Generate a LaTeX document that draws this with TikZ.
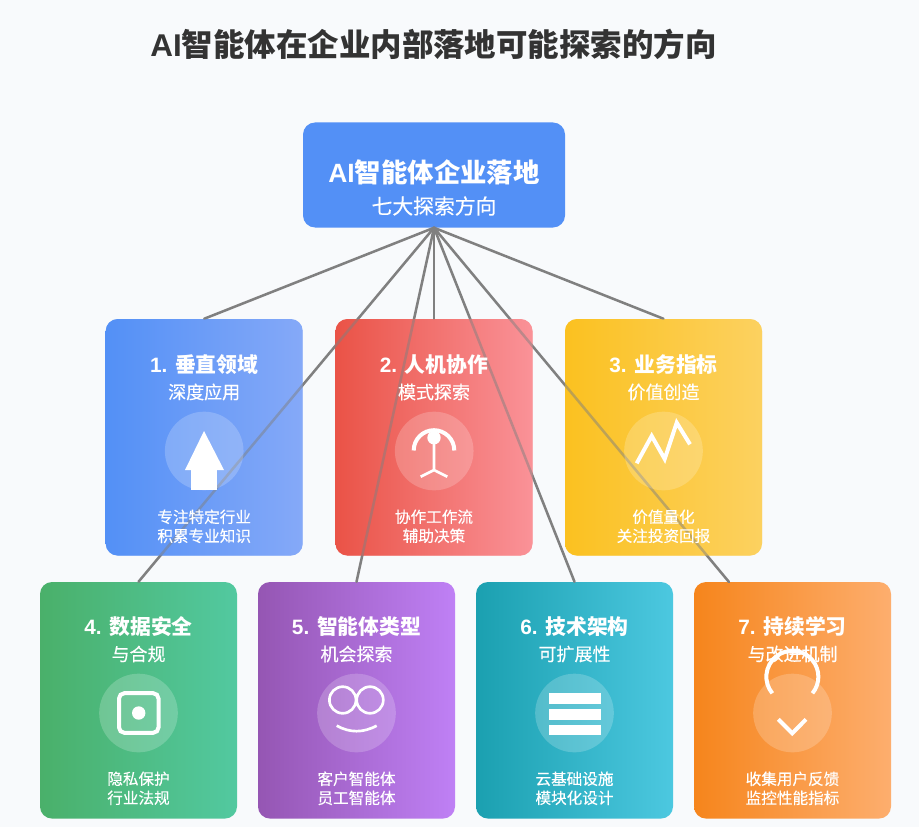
\documentclass[tikz,border=0pt]{standalone}
\usepackage{fontspec}
\setmainfont{Noto Sans CJK SC}
\newfontfamily\latinfont{Liberation Sans}
\newfontfamily\softfont[FakeBold=0.35]{Noto Sans CJK SC}
\usetikzlibrary{positioning}
\definecolor{pagebg}{HTML}{F8FAFC}
\definecolor{hubblue}{HTML}{5390F6}
\definecolor{cardA}{HTML}{5390F6}\definecolor{cardAb}{HTML}{85A9F8}
\definecolor{cardB}{HTML}{EA5347}\definecolor{cardBb}{HTML}{FA9298}
\definecolor{cardC}{HTML}{FBC120}\definecolor{cardCb}{HTML}{FCD160}
\definecolor{cardD}{HTML}{4AB06A}\definecolor{cardDb}{HTML}{52C9A0}
\definecolor{cardE}{HTML}{9556B3}\definecolor{cardEb}{HTML}{BF80F5}
\definecolor{cardF}{HTML}{1BA0B0}\definecolor{cardFb}{HTML}{4CC8E0}
\definecolor{cardG}{HTML}{F6851C}\definecolor{cardGb}{HTML}{FDAE6E}
\tikzset{
  hub/.style={draw=none, fill=hubblue, rounded corners=9pt, minimum width=196.5pt, minimum height=78.75pt, inner sep=0pt},
  card/.style 2 args={draw=none, left color=#1, right color=#2, rounded corners=9pt, minimum width=147.75pt, minimum height=177.4pt, inner sep=0pt},
  veil/.style={opacity=0.5},
  link/.style={draw=black!50, line width=1.9pt, line cap=round},
  halo/.style={circle, fill=white, fill opacity=0.2, draw=none, minimum size=59pt, inner sep=0pt},
  iconline/.style={draw=white, line width=3pt},
  iconthin/.style={draw=white, line width=2pt},
  bigtitle/.style={text=black!80, font=\bfseries\fontsize{23.6}{28}\selectfont},
  hubtitle/.style={text=white, font=\bfseries\fontsize{19.8}{24}\selectfont},
  hubsub/.style={text=white, font=\softfont\fontsize{15.6}{20}\selectfont},
  cardtitle/.style={text=white, font=\bfseries\fontsize{15.6}{20}\selectfont},
  cardsub/.style={text=white, font=\softfont\fontsize{13.5}{18}\selectfont},
  cardnote/.style={text=white, align=center, font=\softfont\fontsize{11.7}{14.3}\selectfont}
}
\begin{document}
\begin{tikzpicture}[x=0.75pt,y=-0.75pt]
  \useasboundingbox[fill=pagebg] (0,0) rectangle (919,827);
  \node[bigtitle] (title) at (433.5,44.5) {{\latinfont AI}智能体在企业内部落地可能探索的方向};
  % boxes
  \node[hub] (center) at (434,175) {};
  \node[card={cardA}{cardAb}] (c1) at (204.2,437.3) {};
  \node[card={cardB}{cardBb}] (c2) at (434,437.3) {};
  \node[card={cardC}{cardCb}] (c3) at (663.5,437.3) {};
  \node[card={cardD}{cardDb}] (c4) at (138.5,700.3) {};
  \node[card={cardE}{cardEb}] (c5) at (356.5,700.3) {};
  \node[card={cardF}{cardFb}] (c6) at (574.5,700.3) {};
  \node[card={cardG}{cardGb}] (c7) at (792.5,700.3) {};
  % links
  \coordinate (c7end) at (729,582);
  \draw[link] (center.south)--(c1.north);
  \draw[link] (center.south)--(c2.north);
  \draw[link] (center.south)--(c3.north);
  \draw[link] (center.south)--(c4.north);
  \draw[link] (center.south)--(c5.north);
  \draw[link] (center.south)--(c6.north);
  \draw[link] (center.south)--(c7end);
  % the links only show faintly through the cards
  \node[card={cardA}{cardAb}, veil] (v1) at (c1) {};
  \node[card={cardB}{cardBb}, veil] (v2) at (c2) {};
  \node[card={cardC}{cardCb}, veil] (v3) at (c3) {};
  % texts
  \node[hubtitle] (ht) at (434,172) {{\latinfont AI}智能体企业落地};
  \node[hubsub] (hs) at (434,206) {七大探索方向};
  \node[cardtitle] (t1) at (204.2,365) {{\latinfont 1. }垂直领域};
  \node[cardsub] (s1) at (204.2,392) {深度应用};
  \node[cardnote] (n1) at (204.2,526.3) {专注特定行业\\积累专业知识};
  \node[cardtitle] (t2) at (434,365) {{\latinfont 2. }人机协作};
  \node[cardsub] (s2) at (434,392) {模式探索};
  \node[cardnote] (n2) at (434,526.3) {协作工作流\\辅助决策};
  \node[cardtitle] (t3) at (663.5,365) {{\latinfont 3. }业务指标};
  \node[cardsub] (s3) at (663.5,392) {价值创造};
  \node[cardnote] (n3) at (663.5,526.3) {价值量化\\关注投资回报};
  \node[cardtitle] (t4) at (138.5,627) {{\latinfont 4. }数据安全};
  \node[cardsub] (s4) at (138.5,654) {与合规};
  \node[cardnote] (n4) at (138.5,788.3) {隐私保护\\行业法规};
  \node[cardtitle] (t5) at (356.5,627) {{\latinfont 5. }智能体类型};
  \node[cardsub] (s5) at (356.5,654) {机会探索};
  \node[cardnote] (n5) at (356.5,788.3) {客户智能体\\员工智能体};
  \node[cardtitle] (t6) at (574.5,627) {{\latinfont 6. }技术架构};
  \node[cardsub] (s6) at (574.5,654) {可扩展性};
  \node[cardnote] (n6) at (574.5,788.3) {云基础设施\\模块化设计};
  \node[cardtitle] (t7) at (792.5,627) {{\latinfont 7. }持续学习};
  \node[cardsub] (s7) at (792.5,654) {与改进机制};
  \node[cardnote] (n7) at (792.5,788.3) {收集用户反馈\\监控性能指标};
  % icons
  \node[halo] (h1) at (204.2,451) {};
  \fill[white] (204,431)--(224,470)--(185,470)--cycle;
  \fill[white] (191,470) rectangle (217,490);
  \node[halo] (h2) at (434.2,451) {};
  \fill[white] (434,437.7) circle (6.7);
  \draw[iconline] (413.7,450.5) arc[start angle=180,end angle=360,radius=20.3];
  \draw[iconthin] (434,442)--(434,470) (420.7,476.7)--(434,470)--(447.3,476.7);
  \node[halo] (h3) at (663.5,451) {};
  \draw[iconline] (636.7,463.3)--(651.7,436)--(664.7,459)--(676.7,422.7)--(690,444.3);
  \node[halo] (h4) at (138.5,713) {};
  \draw[iconline, rounded corners=4pt] (119,693.2) rectangle (158.5,732.8);
  \fill[white] (138.7,713) circle (6.7);
  \node[halo] (h5) at (356.5,713) {};
  \draw[iconthin] (342.7,700) circle (13.3) (370,700) circle (13.3);
  \draw[iconthin] (336.7,725.7) .. controls (350,733) and (363,733) .. (376.7,725.7);
  \node[halo] (h6) at (574.5,713) {};
  \fill[white] (549,693.3) rectangle (600.7,704);
  \fill[white] (549,709) rectangle (600.7,719.7);
  \fill[white] (549,724.7) rectangle (600.7,735.3);
  \node[halo] (h7) at (792.5,713) {};
  \draw[iconline] (772.3,693.3) arc[start angle=140.5,end angle=399.5,radius=26];
  \draw[iconline] (778.3,719.3)--(792.3,733.3)--(806,719.3);
\end{tikzpicture}
\end{document}
